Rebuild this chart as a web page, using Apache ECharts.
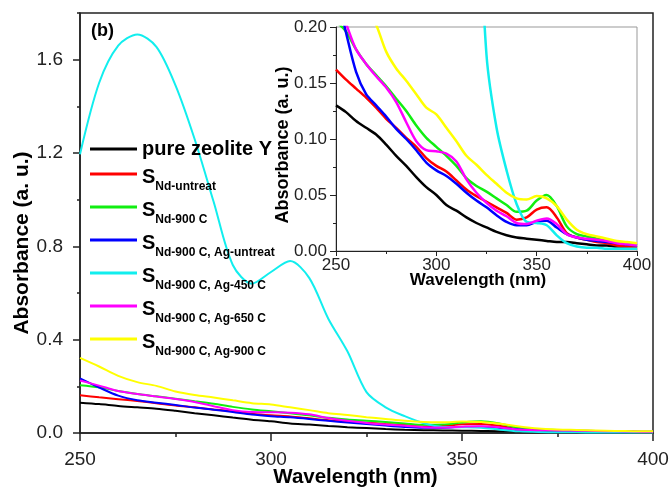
<!DOCTYPE html>
<html>
<head>
<meta charset="utf-8">
<script src="https://cdn.jsdelivr.net/npm/echarts@6/dist/echarts.min.js"></script>
<style>
html,body{margin:0;padding:0;background:#fff;}
#c{width:671px;height:487px;}
</style>
</head>
<body>
<div id="c"></div>
<script>
var wavelength = [250,255,260,265,270,275,280,285,290,295,300,305,310,315,320,325,330,335,340,345,350,355,360,365,370,375,380,385,390,395,400];

var pureZeolite = [0.130,0.124,0.116,0.110,0.104,0.095,0.085,0.076,0.066,0.057,0.050,0.041,0.036,0.030,0.025,0.021,0.017,0.014,0.012,0.011,0.010,0.009,0.008,0.008,0.007,0.006,0.005,0.005,0.004,0.004,0.003];
var ndUntreat   = [0.162,0.153,0.145,0.137,0.128,0.118,0.110,0.101,0.093,0.083,0.076,0.071,0.063,0.055,0.049,0.044,0.039,0.034,0.028,0.030,0.037,0.039,0.030,0.016,0.012,0.010,0.008,0.007,0.005,0.004,0.003];
var nd900       = [0.205,0.196,0.180,0.167,0.157,0.147,0.136,0.125,0.112,0.101,0.093,0.085,0.076,0.065,0.058,0.053,0.047,0.041,0.035,0.036,0.045,0.050,0.040,0.022,0.015,0.013,0.011,0.009,0.008,0.006,0.005];
var agUntreat   = [0.234,0.195,0.160,0.140,0.130,0.120,0.109,0.100,0.090,0.079,0.072,0.067,0.060,0.052,0.045,0.039,0.032,0.026,0.023,0.023,0.026,0.027,0.021,0.015,0.012,0.010,0.009,0.008,0.007,0.006,0.005];
var ag450       = [1.195,1.500,1.660,1.708,1.655,1.490,1.260,0.990,0.720,0.640,0.690,0.737,0.665,0.490,0.350,0.175,0.110,0.072,0.042,0.026,0.025,0.023,0.014,0.007,0.004,0.003,0.003,0.002,0.002,0.002,0.002];
var ag650       = [0.225,0.203,0.180,0.167,0.156,0.146,0.133,0.115,0.098,0.090,0.089,0.087,0.080,0.064,0.052,0.043,0.036,0.031,0.025,0.024,0.027,0.029,0.024,0.015,0.012,0.011,0.010,0.009,0.007,0.006,0.005];
var ag900       = [0.322,0.285,0.245,0.218,0.202,0.178,0.163,0.152,0.140,0.128,0.122,0.110,0.098,0.085,0.077,0.068,0.060,0.052,0.047,0.046,0.049,0.047,0.040,0.028,0.019,0.015,0.013,0.011,0.009,0.008,0.007];

var seriesNames = ['pure zeolite Y','Nd-untreat','Nd-900 C','Nd-900 C, Ag-untreat','Nd-900 C, Ag-450 C','Nd-900 C, Ag-650 C','Nd-900 C, Ag-900 C'];
var seriesColors = ['#000000','#ff0000','#11ee11','#0000ff','#11eeee','#ff00ff','#ffff00'];
var seriesValues = [pureZeolite, ndUntreat, nd900, agUntreat, ag450, ag650, ag900];

var mainYTicks = [0, 0.4, 0.8, 1.2, 1.6];
var FONT = 'Liberation Sans, Arial, sans-serif';

function pairs(vals){ return wavelength.map(function(w,i){ return [w, vals[i]]; }); }

var series = [];
seriesNames.forEach(function(n,i){
  series.push({type:'line', name:n, xAxisIndex:0, yAxisIndex:0, data:pairs(seriesValues[i]),
    symbol:'none', smooth:0.3, lineStyle:{color:seriesColors[i], width:2}, itemStyle:{color:seriesColors[i]}, z:2});
});
seriesNames.forEach(function(n,i){
  series.push({type:'line', name:n, xAxisIndex:1, yAxisIndex:2, data:pairs(seriesValues[i]),
    symbol:'none', smooth:0.3, lineStyle:{color:seriesColors[i], width:2.5}, itemStyle:{color:seriesColors[i]}, z:3});
});

var dark = '#222';
var chart = echarts.init(document.getElementById('c'), null, {renderer:'canvas'});
chart.setOption({
  animation:false,
  backgroundColor:'#fff',
  textStyle:{fontFamily:FONT},
  title:{text:'(b)', left:91, top:22, padding:0, textStyle:{fontFamily:FONT, fontWeight:'bold', fontSize:18, color:'#000'}},
  legend:{
    orient:'vertical', left:90, top:131, padding:0, itemWidth:47, itemHeight:3, itemGap:-3,
    icon:'rect',
    data:seriesNames,
    formatter:function(n){
      if(n === seriesNames[0]) return '{p|' + n + '}';
      return '{s|S}{sub|' + n + '}';
    },
    textStyle:{color:'#000', fontFamily:FONT, rich:{
      p:{fontSize:20, fontWeight:'bold', lineHeight:20, padding:[8,0,8,0], color:'#000', fontFamily:FONT},
      s:{fontSize:20, fontWeight:'bold', lineHeight:20, padding:[3,0,13,0], verticalAlign:'top', color:'#000', fontFamily:FONT},
      sub:{fontSize:12, fontWeight:'bold', lineHeight:14, padding:[17,0,5,0], verticalAlign:'top', color:'#000', fontFamily:FONT}
    }}
  },
  grid:[
    {left:80, top:13, right:18, bottom:54, show:true, borderColor:dark, borderWidth:1.5, backgroundColor:'transparent', outerBoundsMode:'none', containLabel:false},
    {left:336, top:27, right:34, bottom:236, show:true, borderColor:'#999', borderWidth:1, backgroundColor:'transparent', outerBoundsMode:'none', containLabel:false}
  ],
  xAxis:[
    {type:'value', gridIndex:0, min:250, max:400, interval:50,
     name:'Wavelength (nm)', nameLocation:'middle', nameGap:34, nameMoveOverlap:false,
     nameTextStyle:{fontFamily:FONT, fontWeight:'bold', fontSize:20.5, color:'#000', padding:[0,22,0,0]},
     axisLine:{lineStyle:{color:dark, width:1.5}},
     axisTick:{length:8, lineStyle:{color:dark, width:1.5}},
     minorTick:{show:true, splitNumber:2, length:4, lineStyle:{color:dark, width:1.5}},
     axisLabel:{fontSize:19, color:'#222', margin:17, fontFamily:FONT},
     splitLine:{show:false}, minorSplitLine:{show:false}},
    {type:'value', gridIndex:1, min:250, max:400, interval:50,
     name:'Wavelength (nm)', nameLocation:'middle', nameGap:21, nameMoveOverlap:false,
     nameTextStyle:{fontFamily:FONT, fontWeight:'bold', fontSize:17, color:'#000', padding:[0,17,0,0]},
     axisLine:{lineStyle:{color:dark, width:1}},
     axisTick:{length:5, lineStyle:{color:dark, width:1}},
     minorTick:{show:true, splitNumber:2, length:3, lineStyle:{color:dark, width:1}},
     axisLabel:{fontSize:17, color:'#222', margin:6, fontFamily:FONT},
     splitLine:{show:false}, minorSplitLine:{show:false}}
  ],
  yAxis:[
    {type:'value', gridIndex:0, min:0, max:1.8, interval:0.2, position:'left',
     name:'Absorbance (a. u.)', nameLocation:'middle', nameGap:47, nameMoveOverlap:false,
     nameTextStyle:{fontFamily:FONT, fontWeight:'bold', fontSize:21, color:'#000', padding:[0,40,0,0]},
     axisLine:{show:true, lineStyle:{color:dark, width:1.5}},
     axisTick:{length:3, lineStyle:{color:dark, width:1.5}},
     axisLabel:{fontSize:19, color:'#222', margin:17, fontFamily:FONT,
       formatter:function(v){ var k=v/0.4; return Math.abs(k-Math.round(k))<1e-6 && v<1.7 ? v.toFixed(1) : ''; }},
     splitLine:{show:false}},
    {type:'value', gridIndex:0, min:0, max:1.8, interval:0.4, position:'left',
     axisLine:{show:false},
     axisTick:{show:true, length:7, customValues:mainYTicks, lineStyle:{color:dark, width:1.5}},
     axisLabel:{show:false}, splitLine:{show:false}},
    {type:'value', gridIndex:1, min:0, max:0.2, interval:0.05, position:'left',
     name:'Absorbance (a. u.)', nameLocation:'middle', nameGap:44, nameMoveOverlap:false,
     nameTextStyle:{fontFamily:FONT, fontWeight:'bold', fontSize:18, color:'#000', padding:[0,12,0,0]},
     axisLine:{show:true, lineStyle:{color:dark, width:1}},
     axisTick:{length:6, lineStyle:{color:dark, width:1}},
     minorTick:{show:true, splitNumber:2, length:3, lineStyle:{color:dark, width:1}},
     axisLabel:{fontSize:17, color:'#222', margin:9, fontFamily:FONT, formatter:function(v){return v.toFixed(2);}},
     splitLine:{show:false}, minorSplitLine:{show:false}}
  ],
  series:series
});
</script>
</body>
</html>
